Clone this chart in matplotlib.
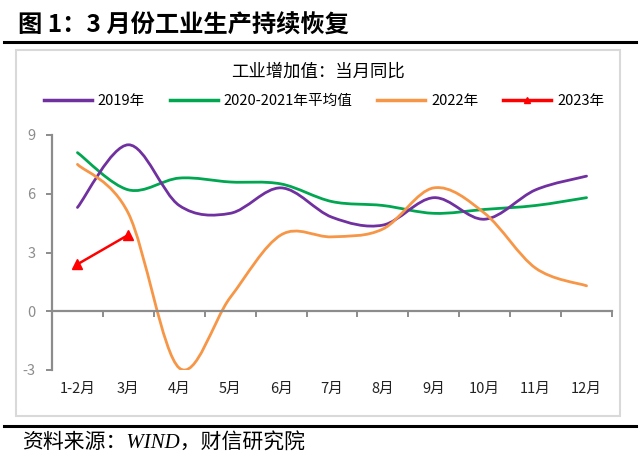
#!/usr/bin/env python3

import numpy as np
import matplotlib
matplotlib.use('Agg')
import matplotlib.pyplot as plt
from matplotlib.path import Path
from matplotlib.patches import PathPatch, Rectangle
from matplotlib.lines import Line2D
import matplotlib.transforms as mtransforms

plt.rcParams['font.family'] = ['Noto Sans CJK SC', 'DejaVu Sans']

# 数据
months = ['1-2月', '3月', '4月', '5月', '6月', '7月', '8月', '9月', '10月', '11月', '12月']
y2019 = [5.3, 8.5, 5.4, 5.0, 6.3, 4.8, 4.4, 5.8, 4.7, 6.2, 6.9]
y2020_21 = [8.1, 6.2, 6.8, 6.6, 6.5, 5.6, 5.4, 5.0, 5.2, 5.4, 5.8]
y2022 = [7.5, 5.0, -2.9, 0.7, 3.9, 3.8, 4.2, 6.3, 5.0, 2.2, 1.3]
y2023 = [2.4, 3.9]
yticks = [-3, 0, 3, 6, 9]

c2019 = '#7030A0'
c2021 = '#00A650'
c2022 = '#F79646'
c2023 = '#FF0000'


def smooth_path(xs, ys):
    """Excel式平滑曲线：用 Catmull-Rom 转三次贝塞尔"""
    pts = np.column_stack([xs, ys]).astype(float)
    n = len(pts)
    verts = [pts[0]]
    codes = [Path.MOVETO]
    for i in range(n - 1):
        p0 = pts[i - 1] if i > 0 else pts[i]
        p1 = pts[i]
        p2 = pts[i + 1]
        p3 = pts[i + 2] if i + 2 < n else pts[i + 1]
        c1 = p1 + (p2 - p0) / 6.0
        c2 = p2 - (p3 - p1) / 6.0
        verts += [c1, c2, p2]
        codes += [Path.CURVE4] * 3
    return Path(verts, codes)


W, H = 640, 459
fig = plt.figure(figsize=(W / 100, H / 100), dpi=100)

# 标题和分隔线
fig.text(18 / W, 1 - 25 / H, '图 1：3 月份工业生产持续恢复', fontsize=17.5,
         fontweight='bold', va='center', ha='left')
fig.add_artist(Line2D([4 / W, 636 / W], [1 - 42 / H, 1 - 42 / H],
                      color='black', lw=2.2, transform=fig.transFigure))
fig.add_artist(Line2D([4 / W, 636 / W], [1 - 426 / H, 1 - 426 / H],
                      color='black', lw=2.2, transform=fig.transFigure))
fig.text(22 / W, 1 - 444 / H, '资料来源：WIND，财信研究院', fontsize=15,
         style='italic', va='center', ha='left',
         family=['Liberation Serif', 'Noto Sans CJK SC'])

# 图表外框
fig.add_artist(Rectangle((16 / W, 1 - 416 / H), (620 - 16) / W, (416 - 50) / H,
                         fill=False, edgecolor='#d9d9d9', lw=1.5,
                         transform=fig.transFigure))
fig.text(318 / W, 1 - 72 / H, '工业增加值：当月同比', fontsize=12.5,
         va='center', ha='center')

ax = fig.add_axes([52 / W, 1 - 370 / H, 560 / W, 235 / H])
x = np.arange(len(months))

for ys, col in [(y2020_21, c2021), (y2019, c2019), (y2022, c2022)]:
    ax.add_patch(PathPatch(smooth_path(x, ys), fill=False, edgecolor=col,
                           lw=2.0, capstyle='round'))
ax.plot(x[:len(y2023)], y2023, color=c2023, lw=1.8, marker='^',
        markersize=7, zorder=5)

ax.set_xlim(-0.5, len(months) - 0.5)
ax.set_ylim(-3, 9)
ax.set_yticks(yticks)
ax.set_yticklabels([str(v) for v in yticks], fontsize=10.5)
for lbl, v in zip(ax.get_yticklabels(), yticks):
    lbl.set_color('red' if v < 0 else '#222222')

spine_c = '#8c8c8c'
for s in ['top', 'right']:
    ax.spines[s].set_visible(False)
ax.spines['left'].set_color(spine_c)
ax.spines['left'].set_linewidth(1.6)
ax.spines['bottom'].set_position(('data', 0))
ax.spines['bottom'].set_color(spine_c)
ax.spines['bottom'].set_linewidth(1.6)
ax.tick_params(axis='y', colors=spine_c, length=4, width=1.4, pad=8)
ax.set_xticks(np.arange(0.5, len(months), 1.0))
ax.set_xticklabels([])
ax.tick_params(axis='x', colors=spine_c, length=4, width=1.4, direction='out')

trans = mtransforms.blended_transform_factory(ax.transData, ax.transAxes)
for i, m in enumerate(months):
    ax.text(i, -0.08, m, transform=trans, ha='center', va='center',
            fontsize=10.5, color='#222222')

handles = [
    Line2D([], [], color=c2019, lw=2.5),
    Line2D([], [], color=c2021, lw=2.5),
    Line2D([], [], color=c2022, lw=2.5),
    Line2D([], [], color=c2023, lw=2.5, marker='^', markersize=5),
]
fig.legend(handles, ['2019年', '2020-2021年平均值', '2022年', '2023年'],
           loc='center', bbox_to_anchor=(324 / W, 1 - 101 / H), ncol=4,
           frameon=False, fontsize=10.5, handlelength=3.3, handletextpad=0.4,
           columnspacing=1.7)

fig.savefig('out.png', dpi=100)
